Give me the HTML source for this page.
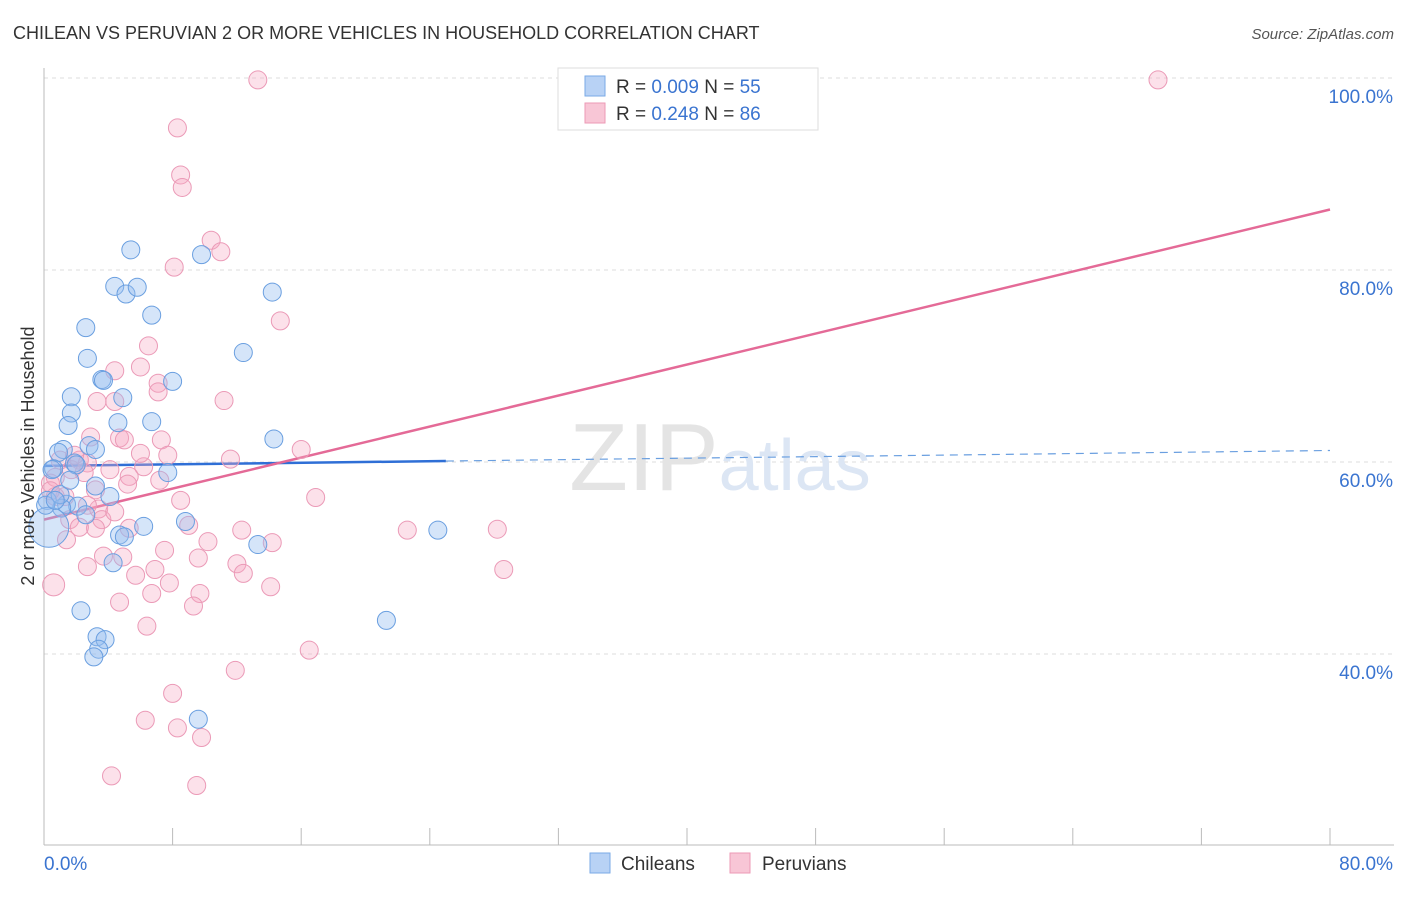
<!DOCTYPE html>
<html><head><meta charset="utf-8"><style>
body{margin:0;background:#fff;font-family:"Liberation Sans",sans-serif;}
svg text{font-family:"Liberation Sans",sans-serif;}
</style></head><body>
<svg id="chart" width="1406" height="892" xmlns="http://www.w3.org/2000/svg">
<text x="13" y="39" font-size="18" fill="#333">CHILEAN VS PERUVIAN 2 OR MORE VEHICLES IN HOUSEHOLD CORRELATION CHART</text>
<text x="1394" y="39" font-size="15" fill="#555" text-anchor="end" font-style="italic">Source: ZipAtlas.com</text>
<g id="grid"></g>
<text x="720" y="490" font-size="96" text-anchor="middle" fill="#e4e4e4" font-family="Liberation Serif">ZIP<tspan fill="#dce6f4" font-family="Liberation Sans" font-size="72">atlas</tspan></text>
<g id="axes"></g>
<g id="trends"></g>
<g id="points"></g>
<text transform="translate(34,456) rotate(-90)" font-size="18" fill="#333" text-anchor="middle">2 or more Vehicles in Household</text>
<g>
<rect x="558" y="68" width="260" height="62" fill="#fff" stroke="#ddd"/>
<rect x="585" y="76" width="20" height="20" fill="#b8d2f5" stroke="#7aaae6"/>
<text x="616" y="93" font-size="19" fill="#333">R = <tspan fill="#3a74d0">0.009</tspan>   N = <tspan fill="#3a74d0">55</tspan></text>
<rect x="585" y="103" width="20" height="20" fill="#f8c6d6" stroke="#ec9ab6"/>
<text x="616" y="120" font-size="19" fill="#333">R =  <tspan fill="#3a74d0">0.248</tspan>   N = <tspan fill="#3a74d0">86</tspan></text>
</g>
<g>
<rect x="590" y="853" width="20" height="20" fill="#b8d2f5" stroke="#7aaae6"/>
<text x="621" y="870" font-size="19" fill="#333">Chileans</text>
<rect x="730" y="853" width="20" height="20" fill="#f8c6d6" stroke="#ec9ab6"/>
<text x="762" y="870" font-size="19" fill="#333">Peruvians</text>
</g>
</svg>
<script>
const blueX=[5.4,9.8,4.4,5.1,5.8,14.2,6.7,2.6,12.4,2.7,3.6,8.0,3.7,1.7,4.9,1.7,6.7,4.6,1.5,14.3,2.8,1.2,3.2,0.9,1.9,0.6,7.7,3.2,4.1,0.2,1.4,2.1,1.1,2.6,6.2,8.8,4.7,5.0,13.3,24.5,4.3,2.3,21.3,3.3,3.8,3.4,3.1,9.6,0.3,0.5,1.0,2.0,0.1,0.7,1.6];
const blueY=[82.1,81.6,78.3,77.5,78.2,77.7,75.3,74.0,71.4,70.8,68.6,68.4,68.5,66.8,66.7,65.1,64.2,64.1,63.8,62.4,61.7,61.3,61.3,61.0,59.9,59.3,58.9,57.5,56.4,56.0,55.6,55.4,55.2,54.5,53.3,53.8,52.4,52.2,51.4,52.9,49.5,44.5,43.5,41.8,41.5,40.5,39.7,33.2,53.2,59.2,56.6,59.7,55.5,56.0,58.1];
const pinkX=[13.3,69.3,8.3,8.5,8.6,10.4,11.0,8.1,14.7,6.5,6.0,4.4,7.1,7.1,3.3,11.2,4.4,4.7,7.3,2.9,16.0,7.7,11.6,2.2,2.7,6.2,5.3,5.2,1.7,0.7,0.4,1.3,0.7,16.9,0.4,3.4,1.6,3.6,3.2,2.2,5.3,9.0,12.3,22.6,28.2,14.2,10.2,7.5,3.7,4.9,9.6,2.7,12.0,12.4,28.6,6.9,5.7,7.8,6.7,14.1,9.7,9.3,4.7,6.4,16.5,11.9,8.0,6.3,8.3,9.8,4.2,9.5,0.6,1.0,1.9,2.5,4.1,4.4,3.2,1.4,2.7,6.0,5.0,7.2,8.5];
const pinkY=[99.8,99.8,94.8,89.9,88.6,83.1,81.9,80.3,74.7,72.1,69.9,69.5,68.2,67.3,66.3,66.4,66.3,62.5,62.3,62.6,61.3,60.7,60.3,60.2,59.9,59.5,58.5,57.7,59.2,58.4,57.8,56.4,56.4,56.3,57.0,55.1,54.0,54.0,53.1,53.2,53.1,53.4,52.9,52.9,53.0,51.6,51.7,50.8,50.2,50.1,50.0,49.1,49.4,48.4,48.8,48.8,48.2,47.4,46.3,47.0,46.3,45.0,45.4,42.9,40.4,38.3,35.9,33.1,32.3,31.3,27.3,26.3,47.2,60.2,60.7,58.9,59.2,54.8,57.1,51.9,55.5,60.9,62.3,58.1,56.0];
const yTicks=[40,60,80,100];
const yTickLabels=["40.0%","60.0%","80.0%","100.0%"];
const xTickLabels=["0.0%","80.0%"];
const blueTrend=[59.6,61.2]; // y at x=0, x=80
const pinkTrend=[54.0,86.3];
const blueSolidEnd=25;

const X0=44,X1=1330,Y100=78,PX=9.6;
const sx=v=>X0+(X1-X0)*v/80;
const sy=v=>Y100+(100-v)*PX;
const NS="http://www.w3.org/2000/svg";
function mk(tag,attrs,parent){const e=document.createElementNS(NS,tag);for(const k in attrs)e.setAttribute(k,attrs[k]);parent.appendChild(e);return e;}
const grid=document.getElementById('grid'),axes=document.getElementById('axes'),tr=document.getElementById('trends'),pts=document.getElementById('points');
yTicks.forEach((t,i)=>{
  const l=mk('line',{x1:X0,x2:1394,y1:sy(t),y2:sy(t),stroke:'#ddd','stroke-dasharray':'4,4'},grid);
  
  
  const tx=mk('text',{x:1393,y:sy(t)+25,'font-size':19,fill:'#3a74d0','text-anchor':'end'},grid);
  tx.textContent=yTickLabels[i];
  
  
});
const ya=mk('line',{x1:X0,x2:X0,y1:68,y2:845,stroke:'#bbb'},axes);


const xa=mk('line',{x1:X0,x2:1394,y1:845,y2:845,stroke:'#bbb'},axes);


for(let i=0;i<=10;i++){
  const t=mk('line',{x1:sx(i*8),x2:sx(i*8),y1:828,y2:845,stroke:'#bbb'},axes);
  
  
}
const xl0=mk('text',{x:X0,y:870,'font-size':19,fill:'#3a74d0'},axes);xl0.textContent=xTickLabels[0];


const xl1=mk('text',{x:1393,y:870,'font-size':19,fill:'#3a74d0','text-anchor':'end'},axes);xl1.textContent=xTickLabels[1];



pinkX.forEach((x,i)=>{
  const c=mk('circle',{cx:sx(x),cy:sy(pinkY[i]),r:i===72?11:9,fill:'rgba(246,170,196,0.35)',stroke:'#eb9ab7','stroke-width':1},pts);
  
  
});
blueX.forEach((x,i)=>{
  const c=mk('circle',{cx:sx(x),cy:sy(blueY[i]),r:i===48?20:9,fill:'rgba(150,190,240,0.4)',stroke:'#6a9fe0','stroke-width':1},pts);
  
  
});
const by=x=>blueTrend[0]+(blueTrend[1]-blueTrend[0])*x/80;
const b1=mk('line',{x1:sx(0),y1:sy(by(0)),x2:sx(blueSolidEnd),y2:sy(by(blueSolidEnd)),stroke:'#2f6fd6','stroke-width':2.5},tr);


const b2=mk('line',{x1:sx(blueSolidEnd),y1:sy(by(blueSolidEnd)),x2:sx(80),y2:sy(by(80)),stroke:'#6a9fe0','stroke-width':1.2,'stroke-dasharray':'8,6'},tr);


const p1=mk('line',{x1:sx(0),y1:sy(pinkTrend[0]),x2:sx(80),y2:sy(pinkTrend[1]),stroke:'#e46a97','stroke-width':2.5},tr);


</script>
</body></html>
